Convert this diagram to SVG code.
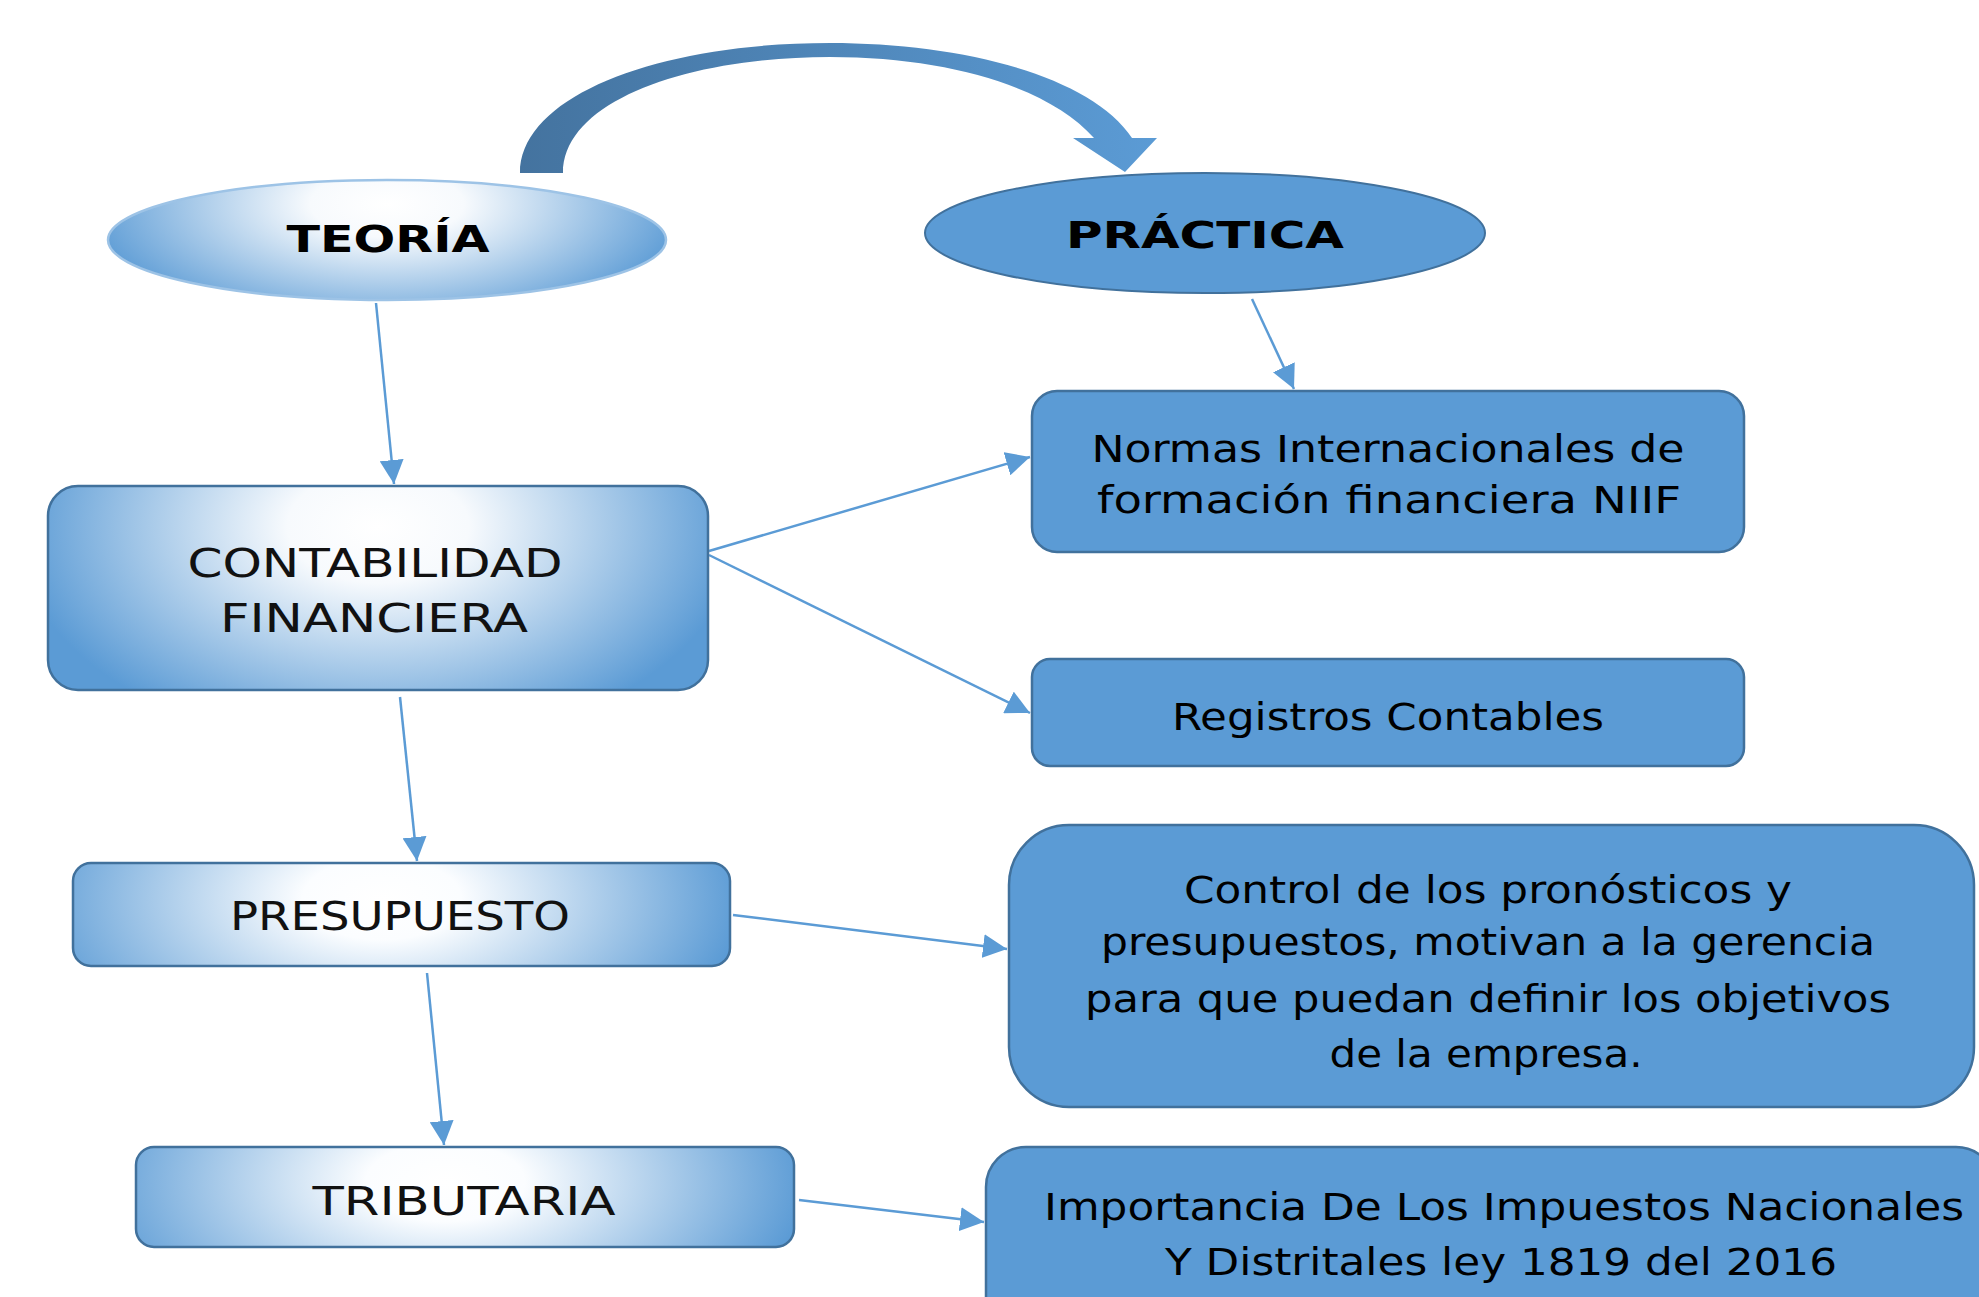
<svg xmlns="http://www.w3.org/2000/svg" width="1979" height="1297" viewBox="0 0 1979 1297">
<defs>
<style>
.box{fill:#5b9bd5;stroke:#41719c;stroke-width:2.5}
.gbox{stroke:#41719c;stroke-width:2.5}
.hand{font-family:"DejaVu Sans Condensed","DejaVu Sans","Liberation Sans",sans-serif;font-size:37px;fill:#000;text-anchor:middle}
.plain{font-family:"DejaVu Sans","Liberation Sans",sans-serif;font-size:39px;fill:#111;text-anchor:middle}
.title{font-family:"DejaVu Sans Condensed","DejaVu Sans",sans-serif;font-weight:bold;font-size:37px;fill:#000;text-anchor:middle}
.conn{stroke:#5b9bd5;stroke-width:2.5;fill:none;marker-end:url(#ah)}
</style>
<marker id="ah" markerUnits="userSpaceOnUse" markerWidth="26" markerHeight="24" refX="24" refY="12" orient="auto">
<path d="M0,0 L24,12 L0,24 Z" fill="#5b9bd5"/>
</marker>
<radialGradient id="gTop" cx="0.5" cy="0.2" r="1" gradientTransform="translate(0.5 0.2) scale(0.55 1.1) translate(-0.5 -0.2)">
<stop offset="0" stop-color="#ffffff"/>
<stop offset="0.25" stop-color="#f7fafd"/>
<stop offset="1" stop-color="#5b9bd5"/>
</radialGradient>
<radialGradient id="gMid" cx="0.47" cy="0.35" r="1" gradientTransform="translate(0.47 0.35) scale(0.55 1.8) translate(-0.47 -0.35)">
<stop offset="0" stop-color="#ffffff"/>
<stop offset="0.22" stop-color="#fbfdff"/>
<stop offset="1" stop-color="#5b9bd5"/>
</radialGradient>
<linearGradient id="gArc" gradientUnits="userSpaceOnUse" x1="520" y1="0" x2="1157" y2="0">
<stop offset="0" stop-color="#44739f"/>
<stop offset="1" stop-color="#5b9bd5"/>
</linearGradient>
</defs>

<g id="curved-arrow">
<path d="M520,173 C520,95 660,43 830,43 C960,43 1090,75 1132,138 L1157,138 L1125,172 L1073,138 L1094,138 C1050,88 950,57 830,57 C690,57 563,100 563,173 Z" fill="url(#gArc)"/>
</g>

<g id="connectors">
<line class="conn" x1="376" y1="303" x2="394" y2="484"/>
<line class="conn" x1="1252" y1="299" x2="1294" y2="389"/>
<line class="conn" x1="709" y1="551" x2="1030" y2="457"/>
<line class="conn" x1="709" y1="555" x2="1030" y2="713"/>
<line class="conn" x1="400" y1="697" x2="417" y2="861"/>
<line class="conn" x1="733" y1="915" x2="1007" y2="949"/>
<line class="conn" x1="427" y1="973" x2="444" y2="1145"/>
<line class="conn" x1="799" y1="1200" x2="984" y2="1222"/>
</g>

<g id="teoria">
<ellipse cx="387" cy="240" rx="279" ry="60" fill="url(#gTop)" stroke="#9dc3e6" stroke-width="2.5"/>
<text class="title" x="388" y="252" textLength="203" lengthAdjust="spacingAndGlyphs">TEORÍA</text>
</g>

<g id="practica">
<ellipse cx="1205" cy="233" rx="280" ry="60" fill="#5b9bd5" stroke="#41719c" stroke-width="2"/>
<text class="title" x="1205" y="248" textLength="278" lengthAdjust="spacingAndGlyphs">PRÁCTICA</text>
</g>

<g id="contabilidad">
<rect class="gbox" x="48" y="486" width="660" height="204" rx="30" fill="url(#gTop)"/>
<text class="plain" x="375" y="577" textLength="375" lengthAdjust="spacingAndGlyphs">CONTABILIDAD</text>
<text class="plain" x="374" y="632" textLength="308" lengthAdjust="spacingAndGlyphs">FINANCIERA</text>
</g>

<g id="presupuesto">
<rect class="gbox" x="73" y="863" width="657" height="103" rx="18" fill="url(#gMid)"/>
<text class="plain" x="400" y="930" textLength="340" lengthAdjust="spacingAndGlyphs">PRESUPUESTO</text>
</g>

<g id="tributaria">
<rect class="gbox" x="136" y="1147" width="658" height="100" rx="18" fill="url(#gMid)"/>
<text class="plain" x="464" y="1215" textLength="303" lengthAdjust="spacingAndGlyphs">TRIBUTARIA</text>
</g>

<g id="normas">
<rect class="box" x="1032" y="391" width="712" height="161" rx="25"/>
<text class="hand" x="1388" y="462" textLength="593" lengthAdjust="spacingAndGlyphs">Normas Internacionales de</text>
<text class="hand" x="1389" y="513" textLength="584" lengthAdjust="spacingAndGlyphs">formación financiera NIIF</text>
</g>

<g id="registros">
<rect class="box" x="1032" y="659" width="712" height="107" rx="18"/>
<text class="hand" x="1388" y="730" textLength="432" lengthAdjust="spacingAndGlyphs">Registros Contables</text>
</g>

<g id="control">
<rect class="box" x="1009" y="825" width="965" height="282" rx="60"/>
<text class="hand" x="1488" y="903" textLength="608" lengthAdjust="spacingAndGlyphs">Control de los pronósticos y</text>
<text class="hand" x="1488" y="955" textLength="774" lengthAdjust="spacingAndGlyphs">presupuestos, motivan a la gerencia</text>
<text class="hand" x="1488" y="1012" textLength="806" lengthAdjust="spacingAndGlyphs">para que puedan definir los objetivos</text>
<text class="hand" x="1486" y="1067" textLength="313" lengthAdjust="spacingAndGlyphs">de la empresa.</text>
</g>

<g id="importancia">
<rect class="box" x="986" y="1147" width="1010" height="200" rx="40"/>
<text class="hand" x="1504" y="1220" textLength="920" lengthAdjust="spacingAndGlyphs">Importancia De Los Impuestos Nacionales</text>
<text class="hand" x="1501" y="1275" textLength="672" lengthAdjust="spacingAndGlyphs">Y Distritales ley 1819 del 2016</text>
</g>
</svg>
